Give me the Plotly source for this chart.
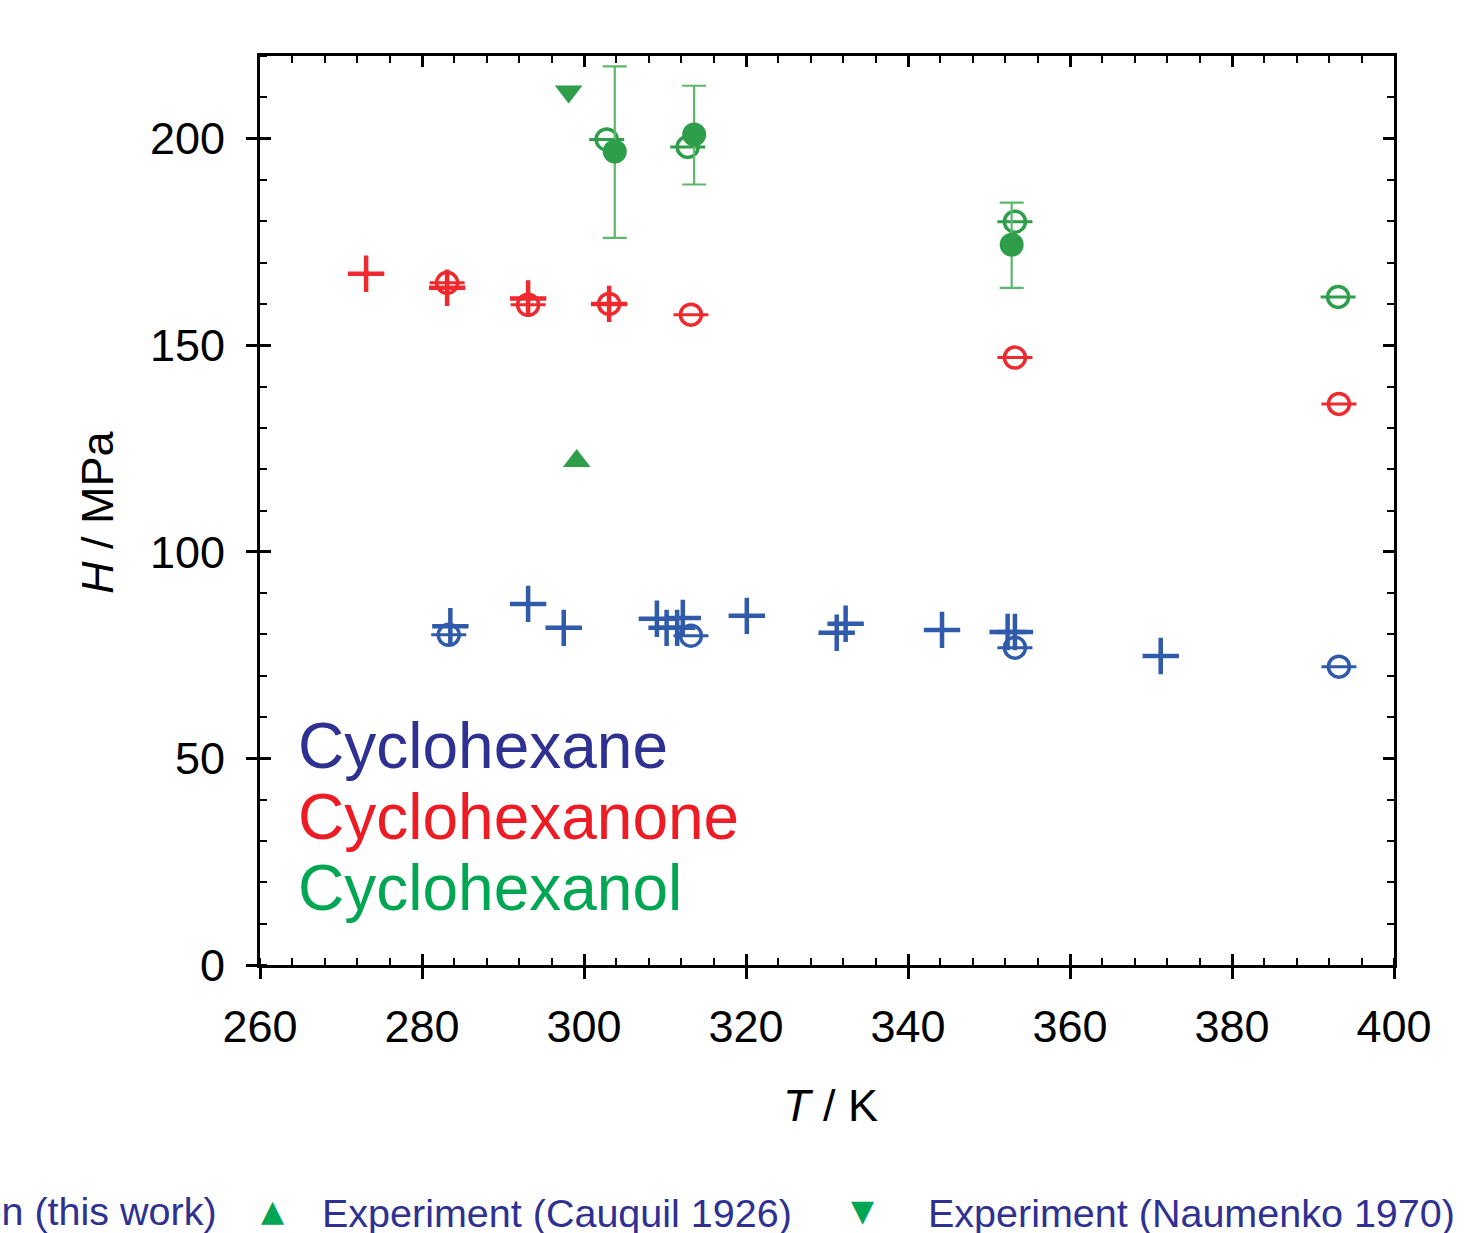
import plotly.graph_objects as go

# ---------------- data ----------------
# Simulation (this work): open circles with bar
sim_T = [283.3, 313.2, 353.2, 393.2]
sim_H_cyclohexane = [79.9, 79.7, 76.8, 72.2]
sim_T_one = [283.1, 293.1, 303.1, 313.2, 353.2, 393.2]
sim_H_cyclohexanone = [165.1, 159.8, 160.0, 157.4, 147.0, 135.8]
sim_T_ol = [302.8, 312.8, 353.2, 393.1]
sim_H_cyclohexanol = [199.8, 198.0, 179.9, 161.7]

# Experimental literature (crosses)
exp_T_cyclohexane = [283.5, 293.1, 297.5, 309.0, 310.2, 311.5, 312.2, 320.1,
                     331.2, 332.3, 344.2, 352.3, 353.2, 371.2]
exp_H_cyclohexane = [82.0, 87.4, 81.6, 83.8, 81.6, 81.6, 84.0, 84.5,
                     80.4, 82.6, 81.1, 80.6, 80.6, 74.8]
exp_T_cyclohexanone = [273.1, 283.1, 293.1, 303.1]
exp_H_cyclohexanone = [167.3, 163.9, 161.3, 160.0]

# Cyclohexanol experiment with error bars (filled circles)
exp_T_ol = [303.8, 313.6, 352.8]
exp_H_ol = [196.9, 201.0, 174.3]
exp_H_ol_hi = [217.5, 212.8, 184.5]
exp_H_ol_lo = [176.0, 188.9, 163.9]

# Cauquil 1926 / Naumenko 1970
cauquil_T = [299.1]
cauquil_H = [122.0]
naumenko_T = [298.1]
naumenko_H = [211.4]

x_ticks = [260, 280, 300, 320, 340, 360, 380, 400]
y_ticks = [0, 50, 100, 150, 200]

BLUE = "#2F5BAA"
RED = "#EE2A2F"
GREEN = "#2E9E4A"
GREEN_EB = "#5DB86E"
TRI = "#00A651"
LBL_BLUE = "#2E3192"
LBL_RED = "#ED1C24"
LBL_GREEN = "#00A651"

fig = go.Figure()

def theta(T, H, color):
    fig.add_trace(go.Scatter(x=T, y=H, mode="markers", showlegend=False,
                             marker=dict(symbol="circle-open", size=21, color=color,
                                         line=dict(color=color, width=3.5))))
    fig.add_trace(go.Scatter(x=T, y=H, mode="markers", showlegend=False,
                             marker=dict(symbol="line-ew-open", size=25, color=color,
                                         line=dict(color=color, width=3))))

def cross(T, H, color):
    fig.add_trace(go.Scatter(x=T, y=H, mode="markers", showlegend=False,
                             marker=dict(symbol="cross-thin-open", size=26, color=color,
                                         line=dict(color=color, width=4.5))))

theta(sim_T, sim_H_cyclohexane, BLUE)
theta(sim_T_one, sim_H_cyclohexanone, RED)
theta(sim_T_ol, sim_H_cyclohexanol, GREEN)
cross(exp_T_cyclohexane, exp_H_cyclohexane, BLUE)
cross(exp_T_cyclohexanone, exp_H_cyclohexanone, RED)

fig.add_trace(go.Scatter(
    x=exp_T_ol, y=exp_H_ol, mode="markers", showlegend=False,
    marker=dict(symbol="circle", size=24, color=GREEN),
    error_y=dict(type="data", symmetric=False,
                 array=[h - m for h, m in zip(exp_H_ol_hi, exp_H_ol)],
                 arrayminus=[m - l for m, l in zip(exp_H_ol, exp_H_ol_lo)],
                 color=GREEN_EB, thickness=2.2, width=12)))

fig.add_trace(go.Scatter(x=cauquil_T, y=cauquil_H, mode="markers", showlegend=False,
                         marker=dict(symbol="triangle-up", size=24, color=GREEN)))
fig.add_trace(go.Scatter(x=naumenko_T, y=naumenko_H, mode="markers", showlegend=False,
                         marker=dict(symbol="triangle-down", size=24, color=GREEN)))

# dummy traces for overlay axes
for xa, ya in [("x2", "y"), ("x3", "y"), ("x", "y2"), ("x", "y3")]:
    fig.add_trace(go.Scatter(x=[None], y=[None], xaxis=xa, yaxis=ya,
                             showlegend=False, hoverinfo="skip"))

FONT = "Liberation Sans, Arial, sans-serif"

common = dict(showgrid=False, zeroline=False, linecolor="black", tickcolor="black")

fig.update_layout(
    width=1482, height=1233,
    margin=dict(l=260, r=88, t=56, b=268),
    paper_bgcolor="white", plot_bgcolor="white",
    font=dict(family=FONT, color="black"),
    showlegend=False,
    xaxis=dict(range=[260, 400], tickvals=x_ticks, ticks="outside", ticklen=11,
               tickwidth=3, showline=True, linewidth=3,
               tickfont=dict(size=45, family=FONT, color="black"),
               ticklabelstandoff=9,
               minor=dict(ticks="inside", ticklen=7, tickwidth=2, dtick=4, tick0=260,
                          tickcolor="black"),
               **common),
    xaxis2=dict(range=[260, 400], overlaying="x", side="top", anchor="y",
                tickvals=x_ticks, ticks="inside", ticklen=11, tickwidth=3,
                showline=True, linewidth=3, showticklabels=False,
                minor=dict(ticks="inside", ticklen=7, tickwidth=2, dtick=4, tick0=260,
                           tickcolor="black"),
                **common),
    xaxis3=dict(range=[260, 400], overlaying="x", side="bottom", anchor="y",
                tickvals=x_ticks, ticks="inside", ticklen=11, tickwidth=3,
                showline=False, showticklabels=False, **common),
    yaxis=dict(range=[0, 220], tickvals=y_ticks, ticks="outside", ticklen=11,
               tickwidth=3, showline=True, linewidth=3,
               tickfont=dict(size=45, family=FONT, color="black"),
               ticklabelstandoff=12,
               minor=dict(ticks="inside", ticklen=7, tickwidth=2, dtick=10, tick0=0,
                          tickcolor="black"),
               **common),
    yaxis2=dict(range=[0, 220], overlaying="y", side="right", anchor="x",
                tickvals=y_ticks, ticks="inside", ticklen=11, tickwidth=3,
                showline=True, linewidth=3, showticklabels=False,
                minor=dict(ticks="inside", ticklen=7, tickwidth=2, dtick=10, tick0=0,
                           tickcolor="black"),
                **common),
    yaxis3=dict(range=[0, 220], overlaying="y", side="left", anchor="x",
                tickvals=y_ticks, ticks="inside", ticklen=11, tickwidth=3,
                showline=False, showticklabels=False, **common),
)

W, H0, PW, PH = 260, 965, 1134, 909

def px(xp):
    return (xp - W) / PW

def py(yp):
    return (H0 - yp) / PH

anns = [
    dict(text="<i>T</i> / K", x=px(830), y=py(1105), font=dict(size=45, color="black")),
    dict(text="<i>H</i> / MPa", x=px(97), y=py(512), textangle=-90,
         font=dict(size=45, color="black")),
    dict(text="Cyclohexane", x=px(296), y=py(746), xanchor="left",
         font=dict(size=64, color=LBL_BLUE)),
    dict(text="Cyclohexanone", x=px(296), y=py(817), xanchor="left",
         font=dict(size=64, color=LBL_RED)),
    dict(text="Cyclohexanol", x=px(296), y=py(888), xanchor="left",
         font=dict(size=64, color=LBL_GREEN)),
    dict(text="Simulation (this work)", x=px(219), y=py(1211), xanchor="right",
         font=dict(size=39.5, color=LBL_BLUE)),
    dict(text="▲", x=px(272), y=py(1210), font=dict(size=30, color=TRI,
                                                  family="DejaVu Sans")),
    dict(text="Experiment (Cauquil 1926)", x=px(320), y=py(1213), xanchor="left",
         font=dict(size=39.5, color=LBL_BLUE)),
    dict(text="▼", x=px(862), y=py(1210), font=dict(size=30, color=TRI,
                                                  family="DejaVu Sans")),
    dict(text="Experiment (Naumenko 1970)", x=px(926), y=py(1213), xanchor="left",
         font=dict(size=39.5, color=LBL_BLUE)),
]
for a in anns:
    a.setdefault("xanchor", "center")
    fig.add_annotation(xref="paper", yref="paper", showarrow=False, yanchor="middle",
                       font_family=a["font"].get("family", FONT), **a)

fig.write_html("out.html")
